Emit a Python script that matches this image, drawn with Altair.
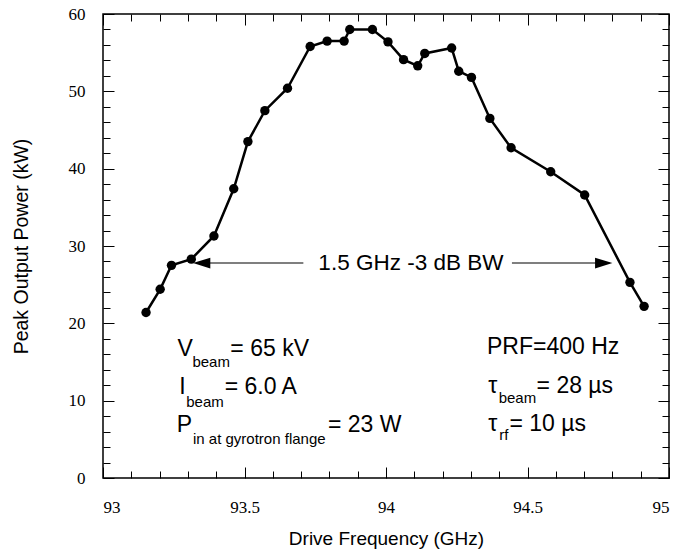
import altair as alt
import pandas as pd

# ---- data ----
freq = [93.152, 93.202, 93.242, 93.312, 93.392, 93.462, 93.512, 93.572, 93.652, 93.732,
        93.792, 93.852, 93.872, 93.952, 94.007, 94.062, 94.112, 94.137, 94.232, 94.257,
        94.302, 94.367, 94.442, 94.582, 94.702, 94.862, 94.912]
power = [21.4, 24.4, 27.5, 28.3, 31.3, 37.4, 43.5, 47.5, 50.4, 55.8,
         56.5, 56.5, 58.0, 58.0, 56.4, 54.1, 53.3, 54.9, 55.6, 52.6,
         51.8, 46.5, 42.7, 39.6, 36.6, 25.3, 22.2]

x_major = [93, 93.5, 94, 94.5, 95]
x_minor = [93.1, 93.2, 93.3, 93.4, 93.6, 93.7, 93.8, 93.9,
           94.1, 94.2, 94.3, 94.4, 94.6, 94.7, 94.8, 94.9]
y_major = [0, 10, 20, 30, 40, 50, 60]
y_minor = [2, 4, 6, 8, 12, 14, 16, 18, 22, 24, 26, 28, 32, 34, 36, 38,
           42, 44, 46, 48, 52, 54, 56, 58]

main_text = ["V", "= 65 kV", "I", "= 6.0 A", "P", "= 23 W",
             "PRF=400 Hz", "τ", "= 28 µs", "τ", "= 10 µs"]
main_x = [93.263, 93.45, 93.269, 93.43, 93.261, 93.795,
          94.357, 94.361, 94.532, 94.361, 94.436]
main_y = [16.7, 16.7, 11.8, 11.8, 6.8, 6.8,
          16.9, 11.9, 11.9, 7.0, 7.0]

sub_text = ["beam", "beam", "in at gyrotron flange", "beam", "rf"]
sub_x = [93.316, 93.294, 93.318, 94.398, 94.40]
sub_y = [15.0, 9.8, 5.1, 10.3, 5.5]

bw_text = ["1.5 GHz -3 dB BW"]
bw_x = [94.088]
bw_y = [27.8]

shaft_from = [93.33, 94.445]
shaft_to = [93.708, 94.79]
arrow_tip = [93.318, 94.80]
arrow_y = [27.8, 27.8]
arrow_dir = ["left", "right"]

# ---- tables ----
df = pd.DataFrame({"f": freq, "p": power})
df_main = pd.DataFrame({"t": main_text, "x": main_x, "y": main_y})
df_sub = pd.DataFrame({"t": sub_text, "x": sub_x, "y": sub_y})
df_bw = pd.DataFrame({"t": bw_text, "x": bw_x, "y": bw_y})
df_shaft = pd.DataFrame({"a": shaft_from, "b": shaft_to, "y": arrow_y})
head_path = {"left": "M 0 0 L 2 -0.62 L 2 0.62 Z",
             "right": "M 0 0 L -2 -0.62 L -2 0.62 Z"}
df_head = pd.DataFrame({"x": arrow_tip, "y": arrow_y,
                        "shape": [head_path[d] for d in arrow_dir]})

xs = alt.Scale(domain=[93, 95], nice=False, zero=False)
ys = alt.Scale(domain=[0, 60], nice=False, zero=True)

SANS = "Liberation Sans"
SERIF = "Liberation Serif"


def tick_axis(orient, values, size):
    return alt.Axis(orient=orient, values=values, tickSize=size, offset=-size,
                    labels=False, domain=False, grid=False, title=None,
                    tickColor="black", tickWidth=1)


def tick_layer(xo, xv, yo, yv, size):
    return alt.Chart(df).mark_point(opacity=0).encode(
        x=alt.X("f:Q", scale=xs, axis=tick_axis(xo, xv, size)),
        y=alt.Y("p:Q", scale=ys, axis=tick_axis(yo, yv, size)),
    )


t1 = tick_layer("bottom", x_minor, "left", y_minor, 7)
t2 = tick_layer("bottom", x_major, "left", y_major, 11)
t3 = tick_layer("top", x_minor, "right", y_minor, 7)
t4 = tick_layer("top", x_major, "right", y_major, 11)

x_lab_axis = alt.Axis(orient="bottom", values=x_major, format="~g", ticks=False,
                      domain=False, grid=False, labelFont=SERIF, labelFontSize=17,
                      labelColor="black", labelPadding=21,
                      title="Drive Frequency (GHz)", titleFont=SANS,
                      titleFontSize=19, titleFontWeight="normal",
                      titleColor="black", titlePadding=14)
y_lab_axis = alt.Axis(orient="left", values=y_major, ticks=False, domain=False,
                      grid=False, labelFont=SERIF, labelFontSize=17,
                      labelColor="black", labelPadding=18,
                      title="Peak Output Power (kW)", titleFont=SANS,
                      titleFontSize=19.5, titleFontWeight="normal",
                      titleColor="black", titlePadding=37)

line = alt.Chart(df).mark_line(color="black", strokeWidth=2.5).encode(
    x=alt.X("f:Q", scale=xs, axis=x_lab_axis),
    y=alt.Y("p:Q", scale=ys, axis=y_lab_axis),
)
pts = alt.Chart(df).mark_circle(color="black", opacity=1, size=88).encode(
    x=alt.X("f:Q", scale=xs, axis=None),
    y=alt.Y("p:Q", scale=ys, axis=None),
)

main_lab = alt.Chart(df_main).mark_text(
    align="left", baseline="middle", font=SANS, fontSize=23, color="black"
).encode(x=alt.X("x:Q", scale=xs, axis=None), y=alt.Y("y:Q", scale=ys, axis=None), text="t:N")
sub_lab = alt.Chart(df_sub).mark_text(
    align="left", baseline="middle", font=SANS, fontSize=15, color="black"
).encode(x=alt.X("x:Q", scale=xs, axis=None), y=alt.Y("y:Q", scale=ys, axis=None), text="t:N")
bw_lab = alt.Chart(df_bw).mark_text(
    align="center", baseline="middle", font=SANS, fontSize=22.5, color="black"
).encode(x=alt.X("x:Q", scale=xs, axis=None), y=alt.Y("y:Q", scale=ys, axis=None), text="t:N")

shafts = alt.Chart(df_shaft).mark_rule(color="black", strokeWidth=1.2).encode(
    x=alt.X("a:Q", scale=xs, axis=None), x2="b:Q",
    y=alt.Y("y:Q", scale=ys, axis=None),
)
heads = alt.Chart(df_head).mark_point(filled=True, color="black", opacity=1,
                                      size=300, strokeWidth=0).encode(
    x=alt.X("x:Q", scale=xs, axis=None),
    y=alt.Y("y:Q", scale=ys, axis=None),
    shape=alt.Shape("shape:N", scale=None),
)

chart = alt.layer(
    line, t1, t2, t3, t4, pts, main_lab, sub_lab, bw_lab, shafts, heads
).resolve_axis(x="independent", y="independent").properties(
    width=566, height=464,
    padding={"left": 103, "top": 14, "right": 11, "bottom": 80},
    autosize=alt.AutoSizeParams(type="none"),
    background="white",
).configure_view(stroke="black", strokeWidth=1.5)

chart.save("out.html", embed_options={"renderer": "svg", "actions": False})
